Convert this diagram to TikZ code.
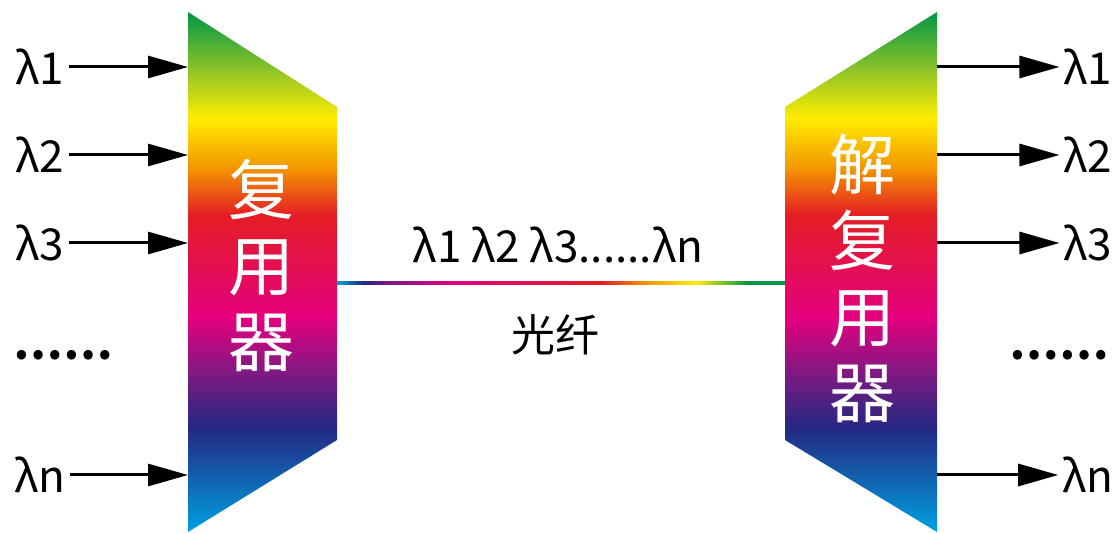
\documentclass[tikz,border=0pt]{standalone}
\usepackage{fontspec}
\usepackage{xcolor}
\usepackage{tikz}
\usetikzlibrary{arrows.meta, positioning}
\newfontfamily\cjk{Noto Sans CJK SC}
\definecolor{specgreen}{RGB}{0,150,70}
\definecolor{speclime}{RGB}{140,195,40}
\definecolor{specyellow}{RGB}{255,236,0}
\definecolor{specorange}{RGB}{243,150,0}
\definecolor{specred}{RGB}{228,30,36}
\definecolor{specmagenta}{RGB}{228,0,127}
\definecolor{specpurple}{RGB}{130,25,130}
\definecolor{specnavy}{RGB}{35,40,130}
\definecolor{speccyan}{RGB}{0,160,225}
\pgfdeclareverticalshading{spectrum}{100bp}{color(0bp)=(speccyan); color(25bp)=(speccyan); color(35bp)=(specnavy); color(40.5bp)=(specpurple); color(45.5bp)=(specmagenta); color(55.5bp)=(specred); color(60bp)=(specorange); color(64.75bp)=(specyellow); color(69.5bp)=(speclime); color(75bp)=(specgreen); color(100bp)=(specgreen)}
\pgfdeclarehorizontalshading{fiberspec}{100bp}{color(0bp)=(speccyan); color(25bp)=(speccyan); color(28bp)=(specnavy); color(31bp)=(specpurple); color(37.5bp)=(specmagenta); color(54.5bp)=(specred); color(59.5bp)=(specorange); color(65bp)=(specyellow); color(71bp)=(specgreen); color(75bp)=(specgreen); color(100bp)=(specgreen)}
\tikzset{
  lam/.style={font=\cjk\fontsize{44}{52}\selectfont, inner sep=4pt},
  dotrow/.style={font=\cjk\bfseries\fontsize{44}{52}\selectfont, inner sep=0pt},
  devtext/.style={font=\cjk\fontsize{66}{76}\selectfont, text=white, align=center, inner sep=0pt},
  sig/.style={-{Triangle[length=40pt, width=22pt]}, line width=3pt}
}

\begin{document}
\begin{tikzpicture}[x=1pt, y=-1pt]
    \useasboundingbox (0,0) rectangle (1120,534);
    \shade[shading=spectrum] (188,12) -- (337,107) -- (337,440) -- (188,532) -- cycle;
    \shade[shading=spectrum] (785,107) -- (937,12) -- (937,532) -- (785,440) -- cycle;
    \coordinate (muxout) at (337,283);
    \coordinate (demuxin) at (785,283);
    \shade[shading=fiberspec] ([yshift=1.5pt]muxout) rectangle ([yshift=-1.5pt]demuxin);

    \node[devtext] (mux) at (261,265) {复\\用\\器};
    \node[devtext] (demux) at (862,278) {解\\复\\用\\器};
    \node[lam] (chans) at (558,245) {λ1 λ2 λ3......λn};
    \node[lam] (fiber) at (555,335) {光纤};

    \node[lam] (in1) at (40,67) {λ1};
    \node[lam] (in2) at (40,155) {λ2};
    \node[lam] (in3) at (40,243) {λ3};
    \node[dotrow] (indots) at (63,355) {……};
    \node[lam] (inn) at (40,475) {λn};
    \coordinate (mi1) at (188,67);
    \coordinate (mi2) at (188,155);
    \coordinate (mi3) at (188,243);
    \coordinate (min) at (188,475);

    \node[lam] (out1) at (1088,67) {λ1};
    \node[lam] (out2) at (1088,155) {λ2};
    \node[lam] (out3) at (1088,243) {λ3};
    \node[dotrow] (outdots) at (1059,355) {……};
    \node[lam] (outn) at (1088,475) {λn};
    \coordinate (do1) at (937,67);
    \coordinate (do2) at (937,155);
    \coordinate (do3) at (937,243);
    \coordinate (don) at (937,475);

    \draw[sig] (in1) -- (mi1);
    \draw[sig] (in2) -- (mi2);
    \draw[sig] (in3) -- (mi3);
    \draw[sig] (inn) -- (min);
    \draw[sig] (do1) -- (out1);
    \draw[sig] (do2) -- (out2);
    \draw[sig] (do3) -- (out3);
    \draw[sig] (don) -- (outn);
  \end{tikzpicture}
\end{document}
